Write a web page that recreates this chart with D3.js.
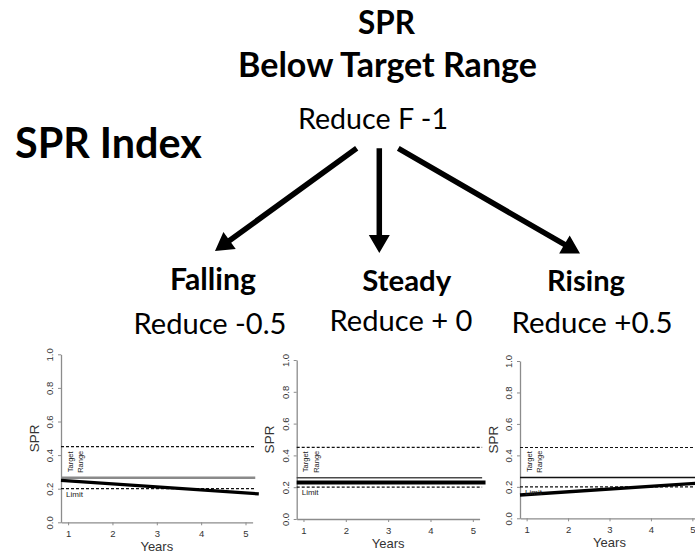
<!DOCTYPE html>
<html><head><meta charset="utf-8">
<script src="https://cdn.jsdelivr.net/npm/d3@7/dist/d3.min.js"></script>
<style>body{margin:0;background:#fff}svg{display:block}</style>
</head><body>
<svg id="c" width="695" height="553"></svg>
<script>
// ---------------- data ----------------
const categories = ["Falling", "Steady", "Rising"];
const reduceLabels = ["Reduce -0.5", "Reduce + 0", "Reduce +0.5"];
const xTicks = [1, 2, 3, 4, 5];
const yTicks = [0, 0.2, 0.4, 0.6, 0.8, 1.0];
const xDomain = [0.84, 5.16];
const yDomain = [0, 1];
const targetUpper = [0.45, 0.45, 0.45];
const targetLower = [0.265, 0.26, 0.26];
const limitLevel = [0.2, 0.2, 0.2];
const refYears = [0.84, 5.22];
const trendYears = [0.84, 5.3];
const trendFalling = [0.249, 0.169];
const trendSteady = [0.23, 0.23];
const trendRising = [0.148, 0.226];
const trends = [trendFalling, trendSteady, trendRising];

// ---------------- layout / style ----------------
const svg = d3.select("#c");
const HEAD_FONT = "Lato, 'Open Sans', sans-serif";
const PLOT_FONT = "'Liberation Sans', Arial, sans-serif";

function fitText(sel, width) {
  const w = sel.node().getComputedTextLength();
  const fs = parseFloat(sel.attr("font-size"));
  sel.attr("font-size", fs * width / w);
}
function headText(str, cx, baseline, width, weight, anchor) {
  const t = svg.append("text")
    .attr("x", cx).attr("y", baseline)
    .attr("text-anchor", anchor || "middle")
    .attr("font-family", HEAD_FONT)
    .attr("font-weight", weight)
    .attr("font-size", 30)
    .attr("fill", "#000")
    .text(str);
  fitText(t, width);
  return t;
}

headText("SPR", 386.5, 34, 57, 700);
headText("Below Target Range", 387.5, 77, 299, 700);
headText("Reduce F -1", 373, 129, 150, 400);
headText("SPR Index", 15, 158, 187, 700, "start");

const catPos = [
  {cx: 213, b: 290, w: 86, rcx: 210, rb: 334, rw: 153},
  {cx: 406.7, b: 291, w: 89, rcx: 401, rb: 331, rw: 143},
  {cx: 586, b: 291, w: 78, rcx: 592, rb: 333, rw: 161}
];
categories.forEach((c, i) => {
  const p = catPos[i];
  headText(c, p.cx, p.b, p.w, 700);
  headText(reduceLabels[i], p.rcx, p.rb, p.rw, 400);
});

// arrows
function arrow(x1, y1, x2, y2) {
  const sw = 5.5, hl = 18, hw = 21;
  const dx = x2 - x1, dy = y2 - y1, L = Math.hypot(dx, dy);
  const ux = dx / L, uy = dy / L, nx = -uy, ny = ux;
  const bx = x2 - ux * hl, by = y2 - uy * hl;
  const pts = [
    [x1 + nx * sw / 2, y1 + ny * sw / 2],
    [bx + nx * sw / 2, by + ny * sw / 2],
    [bx + nx * hw / 2, by + ny * hw / 2],
    [x2, y2],
    [bx - nx * hw / 2, by - ny * hw / 2],
    [bx - nx * sw / 2, by - ny * sw / 2],
    [x1 - nx * sw / 2, y1 - ny * sw / 2]
  ];
  svg.append("path").attr("d", d3.line()(pts) + "Z").attr("fill", "#000");
}
arrow(356.7, 148.3, 215, 251);
arrow(379.3, 148.3, 379.3, 253);
arrow(398.3, 148.3, 580, 253.5);

// small charts
const panelBoxes = [
  {x0: 61, x1: 252.6, yb: 522.3, yt: 354.3},
  {x0: 296.7, x1: 479.6, yb: 519, yt: 360},
  {x0: 520, x1: 699, yb: 518.3, yt: 361}
];
const midStyle = [
  {c: "#8a8a8a", w: 2.4},
  {c: "#4a4a4a", w: 1.5},
  {c: "#111", w: 1.5}
];
const trendW = [3.3, 4, 3.3];
const AX = "#8c8c8c";

panelBoxes.forEach((b, i) => {
  const x = d3.scaleLinear().domain(xDomain).range([b.x0, b.x1]);
  const y = d3.scaleLinear().domain(yDomain).range([b.yb, b.yt]);
  const g = svg.append("g");

  const yAx = g.append("g").attr("transform", `translate(${b.x0},0)`)
    .call(d3.axisLeft(y).tickValues(yTicks).tickSize(3).tickSizeOuter(0).tickFormat(d3.format(".1f")));
  const xAx = g.append("g").attr("transform", `translate(0,${b.yb})`)
    .call(d3.axisBottom(x).tickValues(xTicks).tickSize(3).tickSizeOuter(0).tickPadding(5).tickFormat(d3.format("d")));
  [yAx, xAx].forEach(a => {
    a.select(".domain").attr("stroke", AX).attr("stroke-width", 1.3);
    a.selectAll(".tick line").attr("stroke", AX).attr("stroke-width", 1);
    a.selectAll("text").attr("font-family", PLOT_FONT).attr("font-size", 9.5).attr("fill", "#333");
  });
  yAx.selectAll(".tick text")
    .attr("x", null).attr("y", null)
    .attr("text-anchor", "middle")
    .attr("dy", "0.35em")
    .attr("transform", "translate(-11,0) rotate(-90)");

  // axis titles
  g.append("text")
    .attr("transform", `translate(${b.x0 - 27},${y(0.5)}) rotate(-90)`)
    .attr("text-anchor", "middle").attr("dy", "0.35em")
    .attr("font-family", PLOT_FONT).attr("font-size", 13.5).attr("fill", "#333")
    .text("SPR");
  g.append("text")
    .attr("x", (b.x0 + b.x1) / 2).attr("y", b.yb + 29)
    .attr("text-anchor", "middle")
    .attr("font-family", PLOT_FONT).attr("font-size", 13).attr("fill", "#333")
    .text("Years");

  const line = d3.line().x(d => x(d[0])).y(d => y(d[1]));
  const hRef = v => refYears.map(yr => [yr, v]);

  g.append("path").attr("d", line(hRef(targetUpper[i]))).attr("fill", "none")
    .attr("stroke", "#111").attr("stroke-width", 1.2).attr("stroke-dasharray", "3,2");
  g.append("path").attr("d", line(hRef(limitLevel[i]))).attr("fill", "none")
    .attr("stroke", "#111").attr("stroke-width", 1.2).attr("stroke-dasharray", "3,2");
  g.append("path").attr("d", line(hRef(targetLower[i]))).attr("fill", "none")
    .attr("stroke", midStyle[i].c).attr("stroke-width", midStyle[i].w);
  g.append("path").attr("d", line(trendYears.map((yr, k) => [yr, trends[i][k]])))
    .attr("fill", "none").attr("stroke", "#000").attr("stroke-width", trendW[i]);

  // Target Range label (rotated, two lines)
  const ty = y(0.36);
  const tr = g.append("text")
    .attr("transform", `translate(${b.x0 + 9},${ty}) rotate(-90)`)
    .attr("text-anchor", "middle")
    .attr("font-family", PLOT_FONT).attr("font-size", 7.5).attr("fill", "#222");
  tr.append("tspan").attr("x", 0).attr("dy", "0.35em").text("Target");
  tr.append("tspan").attr("x", 0).attr("dy", "1.4em").text("Range");

  g.append("text")
    .attr("x", b.x0 + 5).attr("y", y(limitLevel[i]) + 8)
    .attr("font-family", PLOT_FONT).attr("font-size", 8).attr("fill", "#222")
    .text("Limit");
});
</script>
</body></html>
